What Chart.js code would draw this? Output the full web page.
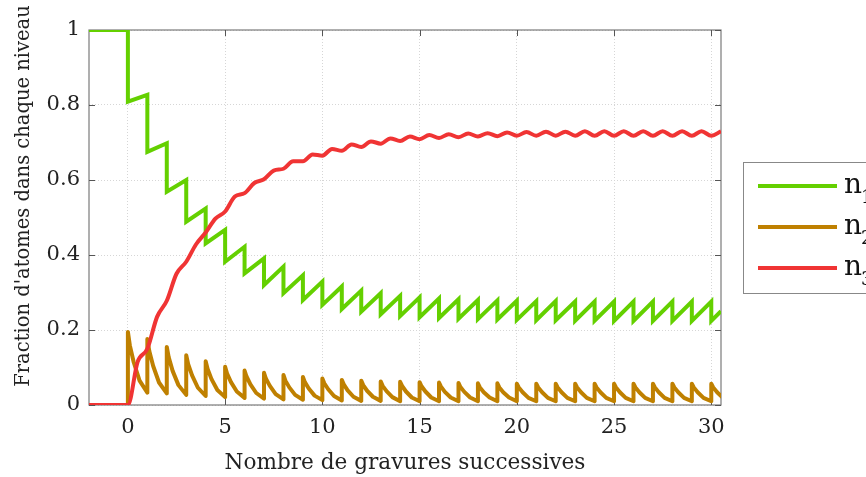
<!DOCTYPE html>
<html>
<head>
<meta charset="utf-8">
<script src="https://cdn.jsdelivr.net/npm/chart.js@4.4.1/dist/chart.umd.min.js"></script>
<style>
  html, body { margin: 0; padding: 0; background: #fff; }
  #wrap { width: 866px; height: 477px; position: relative; }
</style>
</head>
<body>
<div id="wrap"><canvas id="chart"></canvas></div>
<script>
// Values, one entry per etching step t = 0..30
const steps = [0, 1, 2, 3, 4, 5, 6, 7, 8, 9, 10, 11, 12, 13, 14, 15, 16, 17, 18, 19, 20, 21, 22, 23, 24, 25, 26, 27, 28, 29, 30];
const xTicks = [0, 5, 10, 15, 20, 25, 30];
const seriesNames = ['n1', 'n2', 'n3'];
const seriesColors = ['rgb(100, 208, 0)', 'rgb(191, 128, 0)', 'rgb(240, 52, 52)'];

// n1: value just before the drop at t, and just after it
const n1Before = [1.000, 0.827, 0.698, 0.600, 0.524, 0.467, 0.422, 0.391, 0.369, 0.346, 0.329, 0.316, 0.305, 0.298, 0.291, 0.287,
  0.284, 0.282, 0.280, 0.279, 0.278, 0.277, 0.277, 0.276, 0.276, 0.276, 0.276, 0.276, 0.276, 0.276, 0.276];
const n1After = [0.809, 0.675, 0.569, 0.489, 0.431, 0.382, 0.351, 0.320, 0.298, 0.280, 0.267, 0.256, 0.249, 0.242, 0.237, 0.234,
  0.232, 0.230, 0.229, 0.228, 0.227, 0.226, 0.226, 0.225, 0.225, 0.224, 0.224, 0.224, 0.224, 0.224, 0.224];
const n1Last = 0.250; // at x = 30.5

// n2: value before the jump at t, peak at t, then at t+0.1, t+0.3 and t+0.6 while it decays
const n2Low = [0.000, 0.033, 0.031, 0.027, 0.024, 0.021, 0.019, 0.017, 0.015, 0.014, 0.013, 0.012, 0.011, 0.011, 0.010, 0.010,
  0.010, 0.010, 0.010, 0.010, 0.010, 0.010, 0.010, 0.010, 0.010, 0.010, 0.010, 0.010, 0.010, 0.010, 0.010];
const n2Peak = [0.195, 0.176, 0.155, 0.133, 0.117, 0.102, 0.092, 0.086, 0.080, 0.075, 0.071, 0.067, 0.065, 0.063, 0.062, 0.061,
  0.060, 0.059, 0.058, 0.058, 0.057, 0.057, 0.057, 0.057, 0.057, 0.057, 0.057, 0.057, 0.057, 0.057, 0.057];
const n2At01 = [0.159, 0.144, 0.127, 0.109, 0.096, 0.084, 0.076, 0.070, 0.065, 0.061, 0.058, 0.055, 0.053, 0.051, 0.051, 0.050,
  0.049, 0.048, 0.047, 0.047, 0.047, 0.047, 0.047, 0.047, 0.047, 0.047, 0.047, 0.047, 0.047, 0.047, 0.047];
const n2At03 = [0.114, 0.104, 0.091, 0.079, 0.069, 0.061, 0.055, 0.051, 0.047, 0.044, 0.042, 0.039, 0.038, 0.037, 0.036, 0.036,
  0.035, 0.035, 0.034, 0.034, 0.034, 0.034, 0.034, 0.034, 0.034, 0.034, 0.034, 0.034, 0.034, 0.034, 0.034];
const n2At06 = [0.065, 0.060, 0.053, 0.046, 0.040, 0.036, 0.032, 0.029, 0.027, 0.025, 0.024, 0.022, 0.022, 0.021, 0.020, 0.020,
  0.020, 0.020, 0.020, 0.020, 0.019, 0.019, 0.019, 0.019, 0.019, 0.019, 0.019, 0.019, 0.019, 0.019, 0.019];

// n3: value at t (kink) and at t+0.5
const n3Step = [0.000, 0.150, 0.278, 0.382, 0.460, 0.516, 0.565, 0.602, 0.630, 0.650, 0.665, 0.678, 0.688, 0.697, 0.704, 0.709,
  0.712, 0.714, 0.716, 0.717, 0.718, 0.718, 0.718, 0.718, 0.718, 0.718, 0.718, 0.718, 0.718, 0.718, 0.718];
const n3Half = [0.115, 0.235, 0.350, 0.428, 0.497, 0.556, 0.592, 0.625, 0.650, 0.668, 0.683, 0.695, 0.703, 0.711, 0.716, 0.720,
  0.722, 0.724, 0.725, 0.727, 0.728, 0.729, 0.729, 0.730, 0.730, 0.730, 0.730, 0.730, 0.730, 0.730, 0.730];

const xMin = -2, xMax = 30.5;
const xTitle = 'Nombre de gravures successives';
const yTitle = "Fraction d'atomes dans chaque niveau";
const serif = "'DejaVu Serif', 'Liberation Serif', serif";

// build x/y points
const n1Points = [{x: xMin, y: n1Before[0]}];
steps.forEach((t, i) => {
  n1Points.push({x: t, y: n1Before[i]}, {x: t, y: n1After[i]});
});
n1Points.push({x: xMax, y: n1Last});

const n2Points = [{x: xMin, y: 0}];
steps.forEach((t, i) => {
  n2Points.push({x: t, y: n2Low[i]}, {x: t, y: n2Peak[i]},
    {x: t + 0.1, y: n2At01[i]}, {x: t + 0.3, y: n2At03[i]}, {x: t + 0.6, y: n2At06[i]});
});

const n3Points = [{x: xMin, y: 0}];
steps.forEach((t, i) => {
  n3Points.push({x: t, y: n3Step[i]}, {x: t + 0.5, y: n3Half[i]});
});

// box, inward ticks, legend and rotated y title (MATLAB look)
const frame = {
  id: 'frame',
  beforeDatasetsDraw(chart) {
    const {ctx, chartArea: a, scales: {x, y}} = chart;
    ctx.save();
    ctx.strokeStyle = '#7b7b7b';
    ctx.lineWidth = 1.2;
    ctx.strokeRect(a.left, a.top, a.right - a.left, a.bottom - a.top);
    ctx.strokeStyle = '#555';
    ctx.lineWidth = 1;
    ctx.beginPath();
    xTicks.forEach(v => {
      const px = Math.round(x.getPixelForValue(v)) + 0.5;
      ctx.moveTo(px, a.bottom); ctx.lineTo(px, a.bottom - 6);
      ctx.moveTo(px, a.top); ctx.lineTo(px, a.top + 6);
    });
    y.ticks.forEach(tk => {
      const py = Math.round(y.getPixelForValue(tk.value)) + 0.5;
      ctx.moveTo(a.left, py); ctx.lineTo(a.left + 6, py);
      ctx.moveTo(a.right, py); ctx.lineTo(a.right - 6, py);
    });
    ctx.stroke();
    ctx.restore();
  },
  afterDraw(chart) {
    const {ctx, chartArea: a} = chart;
    ctx.save();
    // y title
    ctx.fillStyle = '#222';
    ctx.font = '19.5px ' + serif;
    ctx.textAlign = 'center';
    ctx.textBaseline = 'middle';
    ctx.translate(24, 196);
    ctx.rotate(-Math.PI / 2);
    ctx.fillText(yTitle, 0, 0);
    ctx.restore();

    // legend
    ctx.save();
    const lx = a.right + 22, ly = 162;
    ctx.strokeStyle = '#888';
    ctx.lineWidth = 1;
    ctx.strokeRect(lx + 0.5, ly + 0.5, 200, 131);
    chart.data.datasets.forEach((ds, i) => {
      const cy = 186 + i * 41;
      ctx.strokeStyle = ds.borderColor;
      ctx.lineWidth = 4;
      ctx.beginPath();
      ctx.moveTo(lx + 15, cy); ctx.lineTo(lx + 94, cy);
      ctx.stroke();
      ctx.fillStyle = '#111';
      ctx.textAlign = 'left';
      ctx.textBaseline = 'alphabetic';
      ctx.font = '28px ' + serif;
      ctx.fillText(ds.label[0], lx + 101, cy + 7);
      const w = ctx.measureText(ds.label[0]).width;
      ctx.font = '18px ' + serif;
      ctx.fillText(ds.label.slice(1), lx + 100 + w, cy + 17);
    });
    ctx.restore();
  }
};

const datasets = [n1Points, n2Points, n3Points].map((pts, i) => ({
  label: seriesNames[i],
  data: pts,
  borderColor: seriesColors[i],
  backgroundColor: seriesColors[i],
  borderWidth: 4,
  pointRadius: 0,
  fill: false,
  order: 3 - i,
  tension: 0,
  cubicInterpolationMode: i === 2 ? 'monotone' : 'default',
  borderJoinStyle: i === 0 ? 'miter' : 'round',
  borderCapStyle: 'butt'
}));

const ctx = document.getElementById('chart').getContext('2d');
const myChart = new Chart(ctx, {
  type: 'line',
  data: { datasets: datasets },
  plugins: [frame],
  options: {
    responsive: true,
    maintainAspectRatio: false,
    animation: false,
    layout: { padding: { left: 0, top: 30, right: 145, bottom: 0 } },
    plugins: {
      legend: { display: false },
      tooltip: { enabled: false }
    },
    scales: {
      x: {
        type: 'linear',
        min: xMin,
        max: xMax,
        afterBuildTicks: s => { s.ticks = xTicks.map(v => ({ value: v })); },
        afterFit: s => { s.height = 72; },
        ticks: { font: { family: serif, size: 21 }, color: '#222', padding: 10, maxRotation: 0, autoSkip: false },
        grid: { color: '#d6d6d6', lineWidth: 1, drawTicks: false },
        border: { display: false, dash: [1, 2] },
        title: { display: true, text: xTitle, font: { family: serif, size: 21.6 }, color: '#222', padding: { top: 0, bottom: 1 } }
      },
      y: {
        min: 0,
        max: 1,
        afterFit: s => { s.width = 89; },
        ticks: {
          stepSize: 0.2,
          font: { family: serif, size: 21 },
          color: '#222',
          padding: 9,
          callback: v => String(Math.round(v * 10) / 10)
        },
        grid: { color: '#d6d6d6', lineWidth: 1, drawTicks: false },
        border: { display: false, dash: [1, 2] }
      }
    }
  }
});
</script>
</body>
</html>
